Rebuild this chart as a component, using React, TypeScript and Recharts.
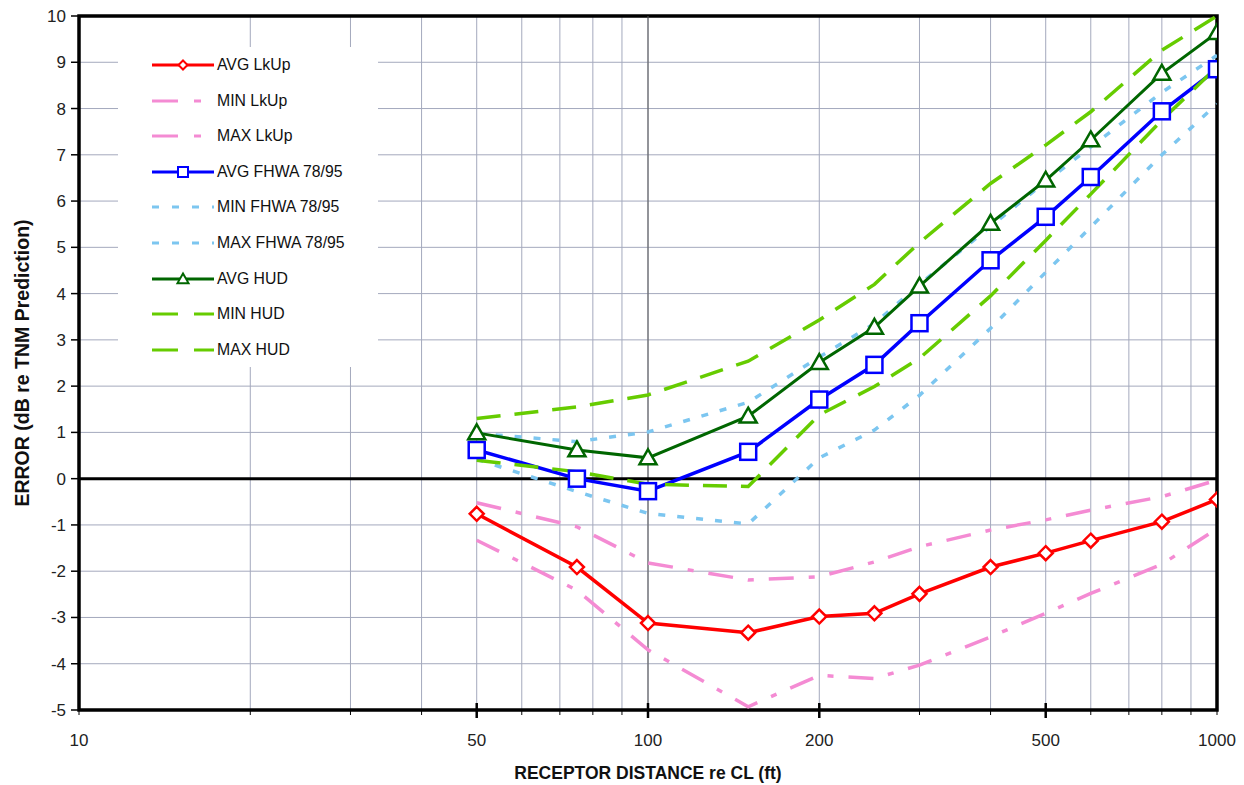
import React from "react";
import {
  LineChart,
  Line,
  XAxis,
  YAxis,
  CartesianGrid,
  ReferenceLine,
  ReferenceArea,
  Legend,
} from "recharts";

// receptor distances (ft) shared by every series
const distances = [50, 75, 100, 150, 200, 250, 300, 400, 500, 600, 800, 1000];

// error values (dB re TNM prediction)
const avgLkUp = [-0.76, -1.91, -3.12, -3.33, -2.98, -2.91, -2.49, -1.91, -1.61, -1.34, -0.93, -0.45];
const minLkUp = [-1.33, -2.41, -3.7, -4.93, -4.25, -4.32, -4.03, -3.42, -2.91, -2.48, -1.85, -1.08];
const maxLkUp = [-0.52, -1.04, -1.82, -2.19, -2.12, -1.8, -1.47, -1.11, -0.89, -0.68, -0.39, -0.03];

const avgFhwa = [0.62, 0.0, -0.27, 0.58, 1.71, 2.46, 3.36, 4.72, 5.66, 6.52, 7.94, 8.85];
const minFhwa = [0.42, -0.28, -0.75, -0.98, 0.45, 1.05, 1.8, 3.25, 4.46, 5.44, 7.0, 8.1];
const maxFhwa = [0.98, 0.8, 1.01, 1.65, 2.63, 3.35, 4.2, 5.45, 6.42, 7.17, 8.35, 9.15];

const avgHud = [0.99, 0.62, 0.45, 1.35, 2.51, 3.27, 4.16, 5.52, 6.45, 7.32, 8.76, 9.64];
const minHud = [0.4, 0.15, -0.12, -0.17, 1.38, 1.99, 2.6, 3.95, 5.15, 6.15, 7.75, 8.9];
const maxHud = [1.3, 1.55, 1.81, 2.54, 3.43, 4.2, 5.1, 6.38, 7.21, 7.93, 9.26, 10.0];

// axis ticks
const xTicks = [10, 20, 30, 40, 50, 60, 70, 80, 90, 100, 200, 300, 400, 500, 600, 700, 800, 900, 1000];
const xLabels = [10, 50, 100, 200, 500, 1000];
const xMajor = [50, 100, 200, 500];
const yTicks = [-5, -4, -3, -2, -1, 0, 1, 2, 3, 4, 5, 6, 7, 8, 9, 10];

const data = distances.map((d, i) => ({
  d,
  avgLkUp: avgLkUp[i],
  minLkUp: minLkUp[i],
  maxLkUp: maxLkUp[i],
  avgFhwa: avgFhwa[i],
  minFhwa: minFhwa[i],
  maxFhwa: maxFhwa[i],
  avgHud: avgHud[i],
  minHud: minHud[i],
  maxHud: maxHud[i],
}));

const RED = "#ff0000";
const PINK = "#f48bd3";
const BLUE = "#0000ff";
const SKY = "#7cc6f0";
const DKGREEN = "#006600";
const LTGREEN = "#66cc00";
const GRID = "#a4a9bd";
const FONT = "'Liberation Sans', Arial, sans-serif";

type Kind = "diamond" | "square" | "triangle" | null;

const series: {
  key: string;
  name: string;
  color: string;
  width: number;
  dash?: string;
  legendDash?: string;
  marker: Kind;
}[] = [
  { key: "avgLkUp", name: "AVG LkUp", color: RED, width: 3.5, marker: "diamond" },
  { key: "minLkUp", name: "MIN LkUp", color: PINK, width: 3.5, dash: "25 15 6 15", legendDash: "26 16 7 20", marker: null },
  { key: "maxLkUp", name: "MAX LkUp", color: PINK, width: 3.5, dash: "25 15 6 15", legendDash: "26 16 7 20", marker: null },
  { key: "avgFhwa", name: "AVG FHWA 78/95", color: BLUE, width: 3.5, marker: "square" },
  { key: "minFhwa", name: "MIN FHWA 78/95", color: SKY, width: 3.5, dash: "7 12", legendDash: "7 13", marker: null },
  { key: "maxFhwa", name: "MAX FHWA 78/95", color: SKY, width: 3.5, dash: "7 12", legendDash: "7 13", marker: null },
  { key: "avgHud", name: "AVG HUD", color: DKGREEN, width: 3, marker: "triangle" },
  { key: "minHud", name: "MIN HUD", color: LTGREEN, width: 3.5, dash: "24 14", legendDash: "26 16", marker: null },
  { key: "maxHud", name: "MAX HUD", color: LTGREEN, width: 3.5, dash: "24 14", legendDash: "26 16", marker: null },
];

function Marker({ kind, cx, cy, color, size, sw }: any) {
  if (kind === "diamond") {
    return (
      <polygon
        points={`${cx},${cy - size} ${cx + size},${cy} ${cx},${cy + size} ${cx - size},${cy}`}
        fill="#fff"
        stroke={color}
        strokeWidth={sw}
      />
    );
  }
  if (kind === "square") {
    return (
      <rect x={cx - size} y={cy - size} width={size * 2} height={size * 2} fill="#fff" stroke={color} strokeWidth={sw} />
    );
  }
  return (
    <polygon
      points={`${cx},${cy - size} ${cx + size},${cy + size * 0.75} ${cx - size},${cy + size * 0.75}`}
      fill="#fff"
      stroke={color}
      strokeWidth={sw}
    />
  );
}

const markerSize: Record<string, number> = { diamond: 7, square: 8, triangle: 8.5 };
const legendMarkerSize: Record<string, number> = { diamond: 4.5, square: 5, triangle: 5.5 };

function XTick(props: any) {
  const { x, y, payload } = props;
  const v = payload.value;
  const major = xMajor.includes(v);
  return (
    <g>
      <line x1={x} x2={x} y1={major ? y - 7 : y} y2={y + (major ? 8 : 5)} stroke="#000" strokeWidth={major ? 2.5 : 1} />
      {xLabels.includes(v) && (
        <text x={x} y={y + 36} textAnchor="middle" fontSize={17} fill="#222" fontFamily={FONT}>
          {v}
        </text>
      )}
    </g>
  );
}

function YTick(props: any) {
  const { x, y, payload } = props;
  return (
    <g>
      <line x1={x - 8} x2={x} y1={y} y2={y} stroke="#000" strokeWidth={1.5} />
      <text x={x - 13} y={y + 6} textAnchor="end" fontSize={17} fill="#222" fontFamily={FONT}>
        {payload.value}
      </text>
    </g>
  );
}

function LegendBox() {
  return (
    <div style={{ position: "relative", width: 260, height: 320, background: "#fff", fontFamily: FONT }}>
      {series.map((s, i) => (
        <div
          key={s.key}
          style={{
            position: "absolute",
            left: 34,
            top: 18 + i * 35.6 - 10,
            height: 20,
            display: "flex",
            alignItems: "center",
            whiteSpace: "nowrap",
          }}
        >
          <svg width={62} height={20} style={{ display: "block" }}>
            <line x1={0} x2={62} y1={10} y2={10} stroke={s.color} strokeWidth={3} strokeDasharray={s.legendDash} />
            {s.marker && (
              <Marker kind={s.marker} cx={31} cy={10} color={s.color} size={legendMarkerSize[s.marker]} sw={2} />
            )}
          </svg>
          <span style={{ fontSize: 15.8, marginLeft: 3, color: "#111" }}>{s.name}</span>
        </div>
      ))}
    </div>
  );
}

export default function App() {
  return (
    <div style={{ position: "absolute", left: 0, top: 0, width: 1244, height: 785, background: "#fff", fontFamily: FONT }}>
      <LineChart width={1244} height={785} data={data} margin={{ top: 16, right: 27, left: 19, bottom: 5 }}>
        <CartesianGrid stroke={GRID} strokeWidth={1} />
        <XAxis
          dataKey="d"
          type="number"
          scale="log"
          domain={[10, 1000]}
          allowDataOverflow
          ticks={xTicks}
          interval={0}
          tick={<XTick />}
          tickSize={0}
          tickMargin={0}
          axisLine={false}
          tickLine={false}
          height={70}
          label={{
            value: "RECEPTOR DISTANCE re CL (ft)",
            position: "insideBottom",
            offset: 1,
            style: { fontSize: 17.5, fontWeight: "bold", fill: "#111", fontFamily: FONT },
          }}
        />
        <YAxis
          type="number"
          domain={[-5, 10]}
          allowDataOverflow
          ticks={yTicks}
          interval={0}
          tick={<YTick />}
          tickSize={0}
          tickMargin={0}
          axisLine={false}
          tickLine={false}
          width={60}
          label={{
            value: "ERROR (dB re TNM Prediction)",
            angle: -90,
            position: "insideLeft",
            offset: 3,
            style: { textAnchor: "middle", fontSize: 19.5, fontWeight: "bold", fill: "#111", fontFamily: FONT },
          }}
        />
        <ReferenceLine x={100} stroke="#555" strokeWidth={1} />
        <ReferenceLine y={0} stroke="#000" strokeWidth={3} />
        <ReferenceArea x1={10} x2={1000} y1={-5} y2={10} fill="none" stroke="#000" strokeWidth={3.5} />
        <Legend
          layout="vertical"
          align="center"
          verticalAlign="middle"
          width={260}
          height={320}
          wrapperStyle={{ left: 118, top: 47, width: 260, height: 320 }}
          content={() => <LegendBox />}
        />
        {series.map((s) => (
          <Line
            key={s.key}
            dataKey={s.key}
            name={s.name}
            type="linear"
            stroke={s.color}
            strokeWidth={s.width}
            strokeDasharray={s.dash}
            isAnimationActive={false}
            activeDot={false}
            dot={
              s.marker
                ? (p: any) => (
                    <Marker
                      key={`${s.key}-${p.index}`}
                      kind={s.marker}
                      cx={p.cx}
                      cy={p.cy}
                      color={s.color}
                      size={markerSize[s.marker as string]}
                      sw={2.5}
                    />
                  )
                : false
            }
          />
        ))}
      </LineChart>
    </div>
  );
}
